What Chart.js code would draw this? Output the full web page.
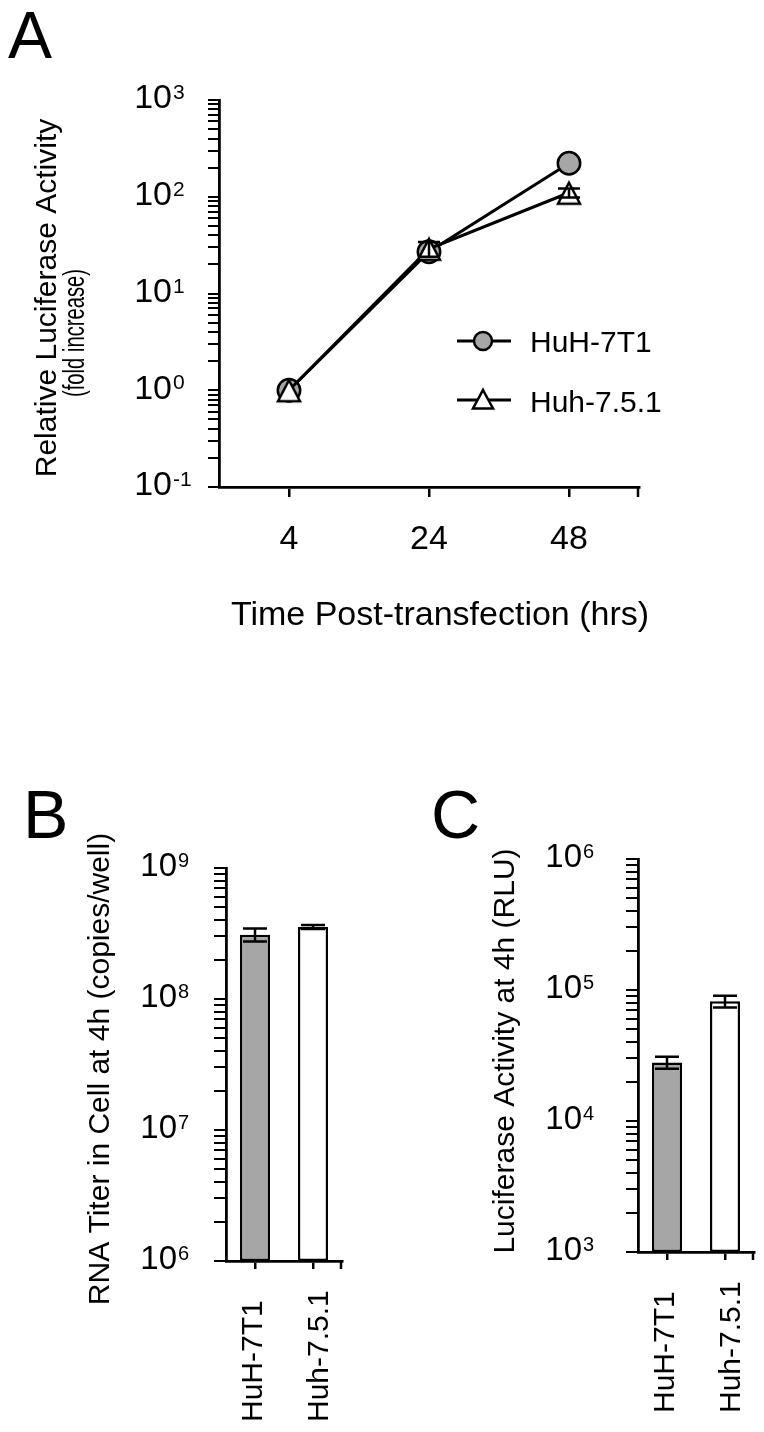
<!DOCTYPE html>
<html><head><meta charset="utf-8">
<script src="https://cdn.jsdelivr.net/npm/chart.js@4"></script>
<style>
html,body{margin:0;padding:0;background:#fff;}
#wrap{position:relative;width:764px;height:1432px;background:#fff;}
canvas{position:absolute;left:0;top:0;}
</style></head><body>
<div id="wrap">
<canvas id="cA" width="764" height="1432"></canvas>
<canvas id="cB" width="764" height="1432"></canvas>
<canvas id="cC" width="764" height="1432"></canvas>
</div>
<script>
// ---------------- DATA ----------------
const timeLabels = ['4', '24', '48'];
const huh7T1Fold = [1.0, 27, 222];
const huh7T1FoldErr = [0, 0, 0];
const huh751Fold = [1.0, 29, 110];
const huh751FoldErr = [0, 5, 12];

const cellLines = ['HuH-7T1', 'Huh-7.5.1'];
const rnaTiter = [3.1e8, 3.55e8];
const rnaTiterErr = [0.35e8, 0.12e8];
const lucAt4h = [2.8e4, 8.2e4];
const lucAt4hErr = [0.3e4, 0.85e4];

const expA = [-1, 0, 1, 2, 3];
const expB = [6, 7, 8, 9];
const expC = [3, 4, 5, 6];
const seriesNames = ['HuH-7T1', 'Huh-7.5.1'];

// ---------------- HELPERS ----------------
const FONT = '"Liberation Sans", Arial, Helvetica, sans-serif';
const GRAY = '#a6a6a6';
const W = 764, H = 1432;

function minorTicks(exps) {
  const t = [];
  for (let i = 0; i < exps.length - 1; i++) {
    for (let m = 1; m < 10; m++) t.push({ value: m * Math.pow(10, exps[i]) });
  }
  t.push({ value: Math.pow(10, exps[exps.length - 1]) });
  return t;
}
function drawPow(ctx, scale, exps, rightX, size) {
  ctx.save(); ctx.fillStyle = '#000';
  for (const e of exps) {
    const y = scale.getPixelForValue(Math.pow(10, e));
    ctx.font = size + 'px ' + FONT; ctx.textAlign = 'right'; ctx.textBaseline = 'middle';
    ctx.fillText('10', rightX, y - 1);
    ctx.font = Math.round(size * 0.62) + 'px ' + FONT; ctx.textAlign = 'left'; ctx.textBaseline = 'alphabetic';
    ctx.fillText(String(e), rightX + 1, y - 1);
  }
  ctx.restore();
}
function vText(ctx, text, x, y, size, align, maxW) {
  ctx.save(); ctx.translate(x, y); ctx.rotate(-Math.PI / 2);
  ctx.font = size + 'px ' + FONT; ctx.fillStyle = '#000';
  ctx.textAlign = align; ctx.textBaseline = 'alphabetic';
  if (maxW) {
    const w = ctx.measureText(text).width;
    if (w > maxW) ctx.scale(maxW / w, 1);
  }
  ctx.fillText(text, 0, 0);
  ctx.restore();
}
function hText(ctx, text, x, y, size, align) {
  ctx.save(); ctx.font = size + 'px ' + FONT; ctx.fillStyle = '#000';
  ctx.textAlign = align; ctx.textBaseline = 'alphabetic';
  ctx.fillText(text, x, y); ctx.restore();
}
function errBars(ctx, chart, dsIndex, values, errs, capW) {
  const meta = chart.getDatasetMeta(dsIndex);
  const ys = chart.scales.y;
  ctx.save(); ctx.strokeStyle = '#000'; ctx.lineWidth = 2.5;
  values.forEach((v, i) => {
    const e = errs[i]; if (!e) return;
    const x = meta.data[i].x;
    const y1 = ys.getPixelForValue(v + e), y2 = ys.getPixelForValue(v - e);
    ctx.beginPath();
    ctx.moveTo(x, y1); ctx.lineTo(x, y2);
    ctx.moveTo(x - capW / 2, y1); ctx.lineTo(x + capW / 2, y1);
    ctx.moveTo(x - capW / 2, y2); ctx.lineTo(x + capW / 2, y2);
    ctx.stroke();
  });
  ctx.restore();
}
function endTick(ctx, chart, len) {
  const a = chart.chartArea;
  ctx.save(); ctx.strokeStyle = '#000'; ctx.lineWidth = 2.5;
  ctx.beginPath(); ctx.moveTo(a.right - 1, a.bottom); ctx.lineTo(a.right - 1, a.bottom + len); ctx.stroke();
  ctx.restore();
}
function makeTriangle() {
  const c = document.createElement('canvas'); c.width = 28; c.height = 28;
  const g = c.getContext('2d');
  g.beginPath(); g.moveTo(14, 4); g.lineTo(25, 25); g.lineTo(3, 25); g.closePath();
  g.fillStyle = '#fff'; g.fill();
  g.lineJoin = 'miter'; g.lineWidth = 2.5; g.strokeStyle = '#000'; g.stroke();
  return c;
}
const triStyle = makeTriangle();

function logY(min, max, exps, width, tickLen) {
  return {
    type: 'logarithmic', min: min, max: max,
    afterBuildTicks: s => { s.ticks = minorTicks(exps); },
    afterFit: s => { s.width = width; },
    ticks: { display: false },
    grid: { drawOnChartArea: false, drawTicks: true, tickLength: tickLen, color: '#000', lineWidth: 2 },
    border: { display: true, color: '#000', width: 2.8 }
  };
}
const baseOpts = {
  responsive: false, animation: false, devicePixelRatio: 1,
  events: [],
  plugins: { legend: { display: false }, tooltip: { enabled: false }, title: { display: false } }
};

// ---------------- PANEL A ----------------
const plugA = {
  id: 'plugA',
  afterDatasetsDraw(chart) {
    const ctx = chart.ctx;
    errBars(ctx, chart, 1, huh751Fold, huh751FoldErr, 22);
    errBars(ctx, chart, 0, huh7T1Fold, huh7T1FoldErr, 22);
  },
  afterDraw(chart) {
    const ctx = chart.ctx;
    hText(ctx, 'A', 8, 58, 66, 'left');
    drawPow(ctx, chart.scales.y, expA, 172, 34);
    vText(ctx, 'Relative Luciferase Activity', 56, 298, 30, 'center');
    vText(ctx, '(fold increase)', 84, 333, 29, 'center', 128);
    hText(ctx, 'Time Post-transfection (hrs)', 440, 625, 34, 'center');
    endTick(ctx, chart, 10);
    // legend
    ctx.save();
    ctx.strokeStyle = '#000'; ctx.lineWidth = 2.8;
    ctx.beginPath(); ctx.moveTo(457, 341); ctx.lineTo(511, 341); ctx.stroke();
    ctx.beginPath(); ctx.arc(483, 341, 9, 0, Math.PI * 2);
    ctx.fillStyle = GRAY; ctx.fill(); ctx.lineWidth = 2.5; ctx.stroke();
    ctx.lineWidth = 2.8;
    ctx.beginPath(); ctx.moveTo(457, 400); ctx.lineTo(511, 400); ctx.stroke();
    ctx.beginPath(); ctx.moveTo(483, 390); ctx.lineTo(493, 408.5); ctx.lineTo(473, 408.5); ctx.closePath();
    ctx.fillStyle = '#fff'; ctx.fill(); ctx.lineWidth = 2.5; ctx.lineJoin = 'miter'; ctx.stroke();
    ctx.restore();
    hText(ctx, seriesNames[0], 530, 352, 30, 'left');
    hText(ctx, seriesNames[1], 530, 412, 30, 'left');
  }
};
new Chart(document.getElementById('cA'), {
  type: 'line',
  data: {
    labels: timeLabels,
    datasets: [
      { label: seriesNames[0], data: huh7T1Fold, order: 2,
        borderColor: '#000', borderWidth: 3, fill: false, tension: 0,
        pointStyle: 'circle', pointRadius: 11.2, pointBackgroundColor: GRAY,
        pointBorderColor: '#000', pointBorderWidth: 2.5 },
      { label: seriesNames[1], data: huh751Fold, order: 1,
        borderColor: '#000', borderWidth: 3, fill: false, tension: 0,
        pointStyle: triStyle, pointRadius: 12 }
    ]
  },
  options: Object.assign({}, baseOpts, {
    layout: { padding: { left: 0, top: 100, right: 125, bottom: 0 } },
    scales: {
      x: { type: 'category', offset: true,
        afterFit: s => { s.height = H - 487; },
        ticks: { display: true, font: { family: FONT, size: 34 }, color: '#000', padding: 22, maxRotation: 0, autoSkip: false },
        grid: { drawOnChartArea: false, drawTicks: true, tickLength: 10, color: '#000', lineWidth: 2.5, offset: false },
        border: { display: true, color: '#000', width: 2.8 } },
      y: logY(0.1, 1000, expA, 219, 11)
    }
  }),
  plugins: [plugA]
});

// ---------------- PANELS B & C ----------------
function barPanel(canvasId, values, errs, exps, letter, letterX, title, titleX, titleY,
                  labelRightX, labelBottom, pad, yWidth, xBottom) {
  const plug = {
    id: 'plug' + letter,
    afterDatasetsDraw(chart) { errBars(chart.ctx, chart, 0, values, errs, 24); },
    afterDraw(chart) {
      const ctx = chart.ctx;
      hText(ctx, letter, letterX, 838, 68, 'left');
      drawPow(ctx, chart.scales.y, exps, labelRightX, 33);
      vText(ctx, title, titleX, titleY, 30, 'center');
      const xs = chart.scales.x;
      cellLines.forEach((lab, i) => {
        vText(ctx, lab, xs.getPixelForValue(i) + 7 + 8 * i, labelBottom, 30, 'left');
      });
      endTick(ctx, chart, 8);
    }
  };
  return new Chart(document.getElementById(canvasId), {
    type: 'bar',
    data: {
      labels: cellLines,
      datasets: [{ data: values, backgroundColor: [GRAY, '#ffffff'], borderColor: '#000',
        borderWidth: 2.5, borderSkipped: false, barPercentage: 0.52, categoryPercentage: 1.0 }]
    },
    options: Object.assign({}, baseOpts, {
      layout: { padding: pad },
      scales: {
        x: { type: 'category', offset: true,
          afterFit: s => { s.height = H - xBottom; },
          ticks: { display: false },
          grid: { drawOnChartArea: false, drawTicks: true, tickLength: 8, color: '#000', lineWidth: 2.5, offset: false },
          border: { display: true, color: '#000', width: 2.8 } },
        y: logY(Math.pow(10, exps[0]), Math.pow(10, exps[exps.length - 1]), exps, yWidth, 12)
      }
    }),
    plugins: [plug]
  });
}
barPanel('cB', rnaTiter, rnaTiterErr, expB, 'B', 23,
  'RNA Titer in Cell at 4h (copies/well)', 109, 1069, 177, 1422,
  { left: 0, top: 868, right: 422, bottom: 0 }, 226, 1261);
barPanel('cC', lucAt4h, lucAt4hErr, expC, 'C', 431,
  'Luciferase Activity at 4h (RLU)', 514, 1051, 582, 1413,
  { left: 0, top: 859, right: 10, bottom: 0 }, 638, 1252);
</script>
</body></html>
